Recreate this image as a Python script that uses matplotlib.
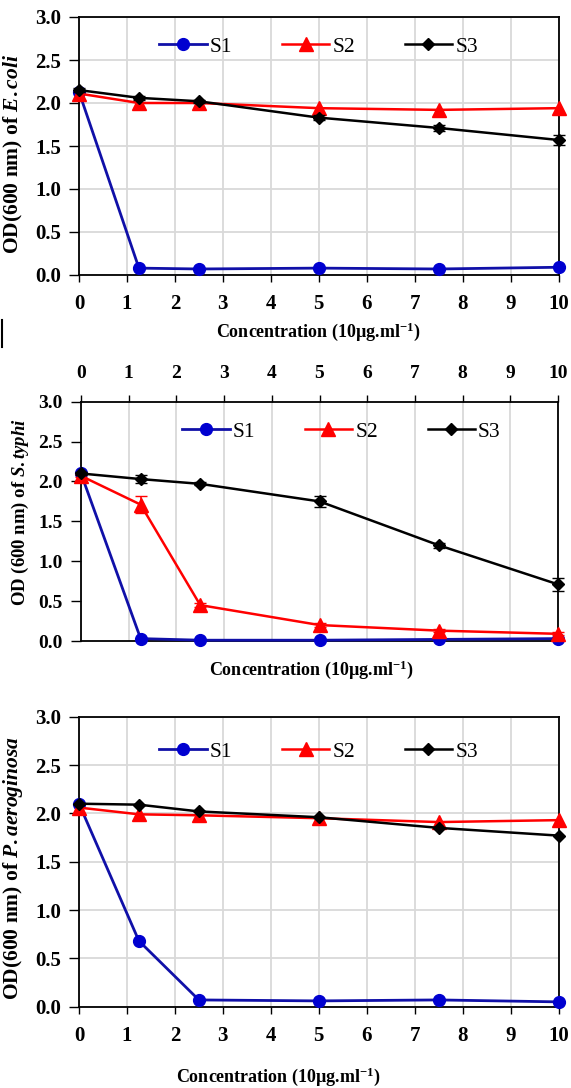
import numpy as np
import matplotlib
matplotlib.use('Agg')
import matplotlib.pyplot as plt
from matplotlib.lines import Line2D
from matplotlib.ticker import FormatStrFormatter, MultipleLocator

plt.rcParams['font.family'] = ['Liberation Serif', 'DejaVu Serif']
plt.rcParams['font.weight'] = 'bold'
plt.rcParams['mathtext.fontset'] = 'custom'
plt.rcParams['mathtext.rm'] = 'Liberation Serif:bold'
plt.rcParams['mathtext.it'] = 'Liberation Serif:italic:bold'
plt.rcParams['mathtext.bf'] = 'Liberation Serif:bold'

# ------------------------------------------------------------
# Data
# ------------------------------------------------------------
conc = [0, 1.25, 2.5, 5, 7.5, 10]
series_names = ['S1', 'S2', 'S3']

ecoli_s1 = [2.13, 0.08, 0.07, 0.08, 0.07, 0.09]
ecoli_s2 = [2.11, 2.00, 2.00, 1.94, 1.92, 1.94]
ecoli_s3 = [2.15, 2.06, 2.02, 1.83, 1.71, 1.57]
ecoli_s3_err = [0.02, 0.02, 0.02, 0.03, 0.03, 0.06]

typhi_s1 = [2.10, 0.03, 0.01, 0.01, 0.02, 0.03]
typhi_s2 = [2.07, 1.71, 0.45, 0.20, 0.13, 0.09]
typhi_s2_err = [0.02, 0.11, 0.03, 0.02, 0.02, 0.02]
typhi_s3 = [2.10, 2.03, 1.97, 1.75, 1.20, 0.71]
typhi_s3_err = [0.02, 0.05, 0.02, 0.07, 0.03, 0.08]

paer_s1 = [2.10, 0.68, 0.07, 0.06, 0.07, 0.05]
paer_s2 = [2.06, 1.99, 1.98, 1.95, 1.91, 1.93]
paer_s3 = [2.10, 2.09, 2.02, 1.96, 1.85, 1.77]

xlabel_text = r'Concentration (10µg.ml$^{\mathbf{-1}}$)'

BLUE_LINE = '#1010a8'
BLUE_MARK = '#0000d0'
RED = '#ff0000'
GRID = '#d9d9d9'

W, H = 571, 1088


def draw_panel(ax, s1, s2, s3, s2_err=None, s3_err=None, hgrid=True,
               top_ticks=False, tick_size=15, leg_x=0.5, leg_y=0.88):
    ax.plot(conc, s1, color=BLUE_LINE, lw=2, marker='o', ms=8.5,
            mfc=BLUE_MARK, mec=BLUE_MARK, clip_on=False, zorder=3,
            label=series_names[0])
    ax.plot(conc, s2, color=RED, lw=1.8, marker='^', ms=9.5,
            mfc=RED, mec=RED, clip_on=False, zorder=4, label=series_names[1])
    ax.plot(conc, s3, color='black', lw=1.8, marker='D', ms=6.5,
            clip_on=False, zorder=5, label=series_names[2])
    if s2_err is not None:
        ax.errorbar(conc, s2, yerr=s2_err, fmt='none', ecolor=RED,
                    capsize=4, elinewidth=1.2, clip_on=False, zorder=4)
    if s3_err is not None:
        ax.errorbar(conc, s3, yerr=s3_err, fmt='none', ecolor='black',
                    capsize=4, elinewidth=1.2, clip_on=False, zorder=5)

    ax.set_xlim(0, 10)
    ax.set_ylim(0, 3)
    ax.xaxis.set_major_locator(MultipleLocator(1))
    ax.yaxis.set_major_locator(MultipleLocator(0.5))
    ax.yaxis.set_major_formatter(FormatStrFormatter('%.1f'))

    ax.grid(True, axis='x', color=GRID, lw=1.3)
    if hgrid:
        ax.grid(True, axis='y', color=GRID, lw=1.3)
    ax.set_axisbelow(True)

    for sp in ax.spines.values():
        sp.set_color('black')
        sp.set_linewidth(1.3)

    if top_ticks:
        ax.xaxis.tick_top()
    ax.tick_params(axis='x', direction='out', length=5, width=1,
                   labelsize=tick_size, pad=9)
    ax.tick_params(axis='y', direction='out', length=7, width=1,
                   labelsize=tick_size, pad=6)

    ax.legend(loc='center', bbox_to_anchor=(leg_x, leg_y), ncol=3,
              frameon=False, handlelength=2.2, handletextpad=0.15,
              columnspacing=2.3, prop={'weight': 'normal', 'size': 15.5})


fig = plt.figure(figsize=(W / 100, H / 100), dpi=100)


def axes_px(left, top, right, bottom):
    return fig.add_axes([left / W, 1 - bottom / H, (right - left) / W,
                         (bottom - top) / H])


# Top panel: E. coli
ax1 = axes_px(79, 17, 558.5, 275)
draw_panel(ax1, ecoli_s1, ecoli_s2, ecoli_s3, s3_err=ecoli_s3_err,
           leg_y=0.884)
ax1.set_ylabel(r'OD(600 nm) of $\mathit{E.coli}$', fontsize=15.5,
               fontweight='bold')
ax1.yaxis.set_label_coords(-0.112, 0.47)
fig.text(318 / W, 1 - 332 / H, xlabel_text, ha='center', va='center',
         fontsize=13)

# Middle panel: S. typhi
ax2 = axes_px(81, 401.7, 558, 641)
draw_panel(ax2, typhi_s1, typhi_s2, typhi_s3, s2_err=typhi_s2_err,
           s3_err=typhi_s3_err, hgrid=False, top_ticks=True, tick_size=14,
           leg_x=0.546, leg_y=0.875)
ax2.set_ylabel(r'OD (600 nm) of $\mathit{S.typhi}$', fontsize=13.5,
               fontweight='bold')
ax2.yaxis.set_label_coords(-0.105, 0.54)
fig.text(311 / W, 1 - 670 / H, xlabel_text, ha='center', va='center',
         fontsize=13)

# Bottom panel: P. aeruginosa
ax3 = axes_px(79, 716.7, 558.5, 1006.7)
draw_panel(ax3, paer_s1, paer_s2, paer_s3, leg_y=0.879)
ax3.set_ylabel(r'OD(600 nm) of $\mathit{P.aeroginosa}$', fontsize=15.5,
               fontweight='bold')
ax3.yaxis.set_label_coords(-0.112, 0.48)
fig.text(278 / W, 1 - 1077 / H, xlabel_text, ha='center', va='center',
         fontsize=13)

# stray vertical mark at left edge
fig.add_artist(Line2D([2 / W, 2 / W], [1 - 320 / H, 1 - 347 / H],
                      color='black', lw=1.5))

fig.savefig('out.png', dpi=100)
